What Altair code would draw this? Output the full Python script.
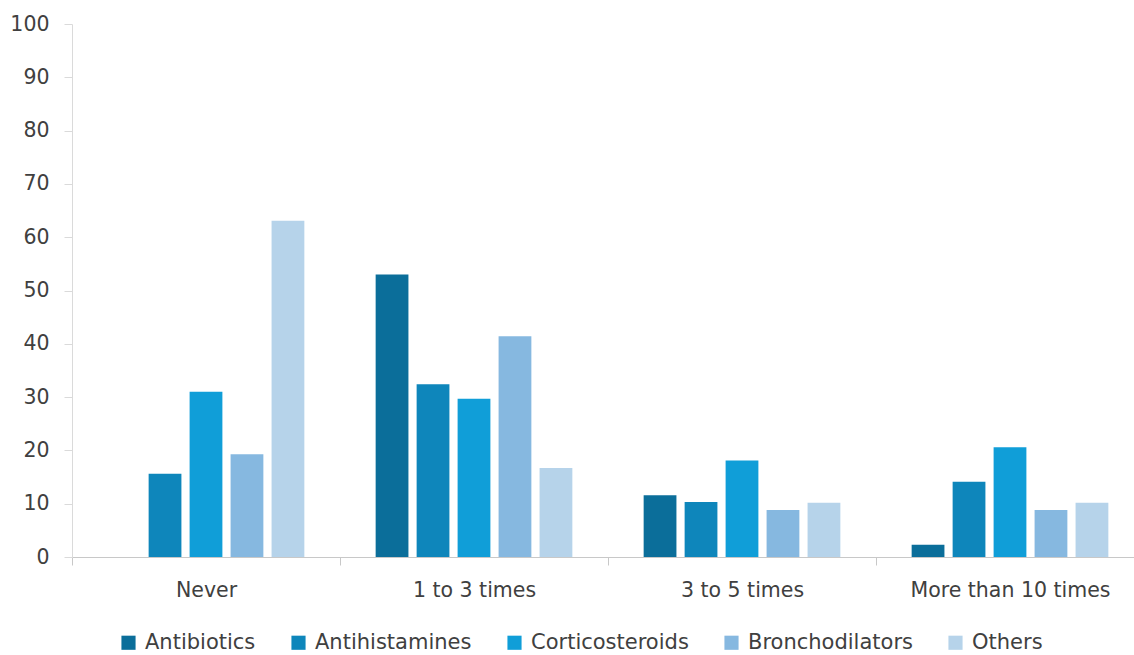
import altair as alt
import pandas as pd

categories = ["Never", "1 to 3 times", "3 to 5 times", "More than 10 times"]
series = ["Antibiotics", "Antihistamines", "Corticosteroids", "Bronchodilators", "Others"]
antibiotics = [0, 53.0, 11.6, 2.3]
antihistamines = [15.6, 32.4, 10.3, 14.1]
corticosteroids = [31.0, 29.7, 18.1, 20.6]
bronchodilators = [19.3, 41.4, 8.8, 8.8]
others = [63.1, 16.7, 10.2, 10.2]
colors = ["#0B6E9A", "#0E86BB", "#109ED8", "#86B8E0", "#B6D3EA"]
y_ticks = list(range(0, 101, 10))

values = [antibiotics, antihistamines, corticosteroids, bronchodilators, others]
rows = []
for s, vals in zip(series, values):
    for c, v in zip(categories, vals):
        rows.append({"category": c, "series": s, "value": v})
df = pd.DataFrame(rows)

FONT = "DejaVu Sans"
TXT = "#404040"

chart = alt.Chart(df).mark_bar().encode(
    x=alt.X("category:N", sort=categories, title=None,
            scale=alt.Scale(paddingInner=0, paddingOuter=0, range=[0, 1072]),
            axis=alt.Axis(labelAngle=0, tickBand="extent", domainColor="#C8C8C8",
                          tickColor="#C8C8C8", tickSize=8, labelPadding=15,
                          labelLimit=1000,
                          labelFontSize=20.5, labelColor=TXT, labelFont=FONT)),
    xOffset=alt.XOffset("series:N", sort=series,
                        scale=alt.Scale(paddingInner=0.2, paddingOuter=0.87)),
    y=alt.Y("value:Q", title=None,
            scale=alt.Scale(domain=[0, 100], nice=False),
            axis=alt.Axis(values=y_ticks, grid=False, domainColor="#DADADA",
                          tickColor="#DADADA", tickSize=8, labelPadding=15,
                          labelFontSize=20.5, labelColor=TXT, labelFont=FONT)),
    color=alt.Color("series:N", sort=series,
                    scale=alt.Scale(domain=series, range=colors),
                    legend=alt.Legend(orient="none", legendX=46, legendY=608,
                                      title=None, direction="horizontal",
                                      symbolType="square", symbolSize=200,
                                      symbolStrokeWidth=0, labelFontSize=21,
                                      labelColor=TXT, labelFont=FONT, labelOffset=6,
                                      labelLimit=1000,
                                      columnPadding=32)),
).properties(
    width=1062, height=533,
    padding={"left": 72, "top": 24, "right": 0, "bottom": 98},
    autosize="none",
).configure_view(stroke=None)

chart.save("out.html", embed_options={"renderer": "svg", "actions": False})
